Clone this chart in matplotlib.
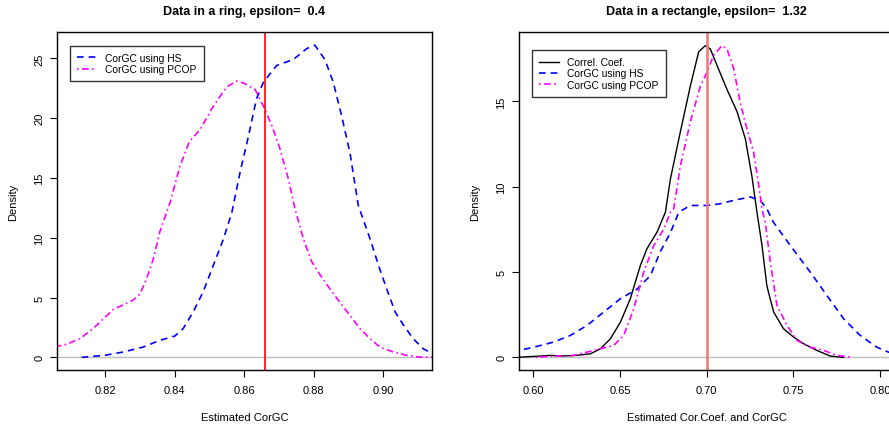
import matplotlib
matplotlib.use('Agg')
import matplotlib.pyplot as plt
import numpy as np

plt.rcParams['font.family'] = ['Liberation Sans', 'DejaVu Sans']

# left panel: data in a ring
ring_hs_x = [0.8132, 0.8199, 0.8252, 0.8309, 0.8357, 0.8400, 0.8424, 0.8453, 0.8482, 0.8511,
             0.8540, 0.8564, 0.8588, 0.8612, 0.8635, 0.8655, 0.8693, 0.8741, 0.8779, 0.8803,
             0.8832, 0.8856, 0.8880, 0.8904, 0.8928, 0.8962, 0.8986, 0.9010, 0.9034, 0.9058,
             0.9086, 0.9115, 0.9141, 0.9160]
ring_hs_y = [0.0, 0.17, 0.45, 0.86, 1.42, 1.78, 2.4, 3.8, 5.5, 7.7,
             9.9, 12.1, 15.5, 18.5, 21.6, 23.0, 24.4, 24.9, 25.8, 26.1,
             24.9, 23.0, 20.2, 17.1, 12.7, 9.9, 7.7, 5.7, 3.8, 2.7,
             1.56, 0.72, 0.3, 0.15]
ring_pcop_x = [0.8040, 0.8060, 0.8089, 0.8127, 0.8165, 0.8194, 0.8223, 0.8252, 0.8281, 0.8300,
               0.8319, 0.8338, 0.8357, 0.8376, 0.8386, 0.8415, 0.8443, 0.8472, 0.8511, 0.8549,
               0.8578, 0.8600, 0.8631, 0.8655, 0.8679, 0.8703, 0.8727, 0.8746, 0.8770, 0.8794,
               0.8818, 0.8847, 0.8875, 0.8904, 0.8933, 0.8962, 0.8990, 0.9029, 0.9067, 0.9106,
               0.9160]
ring_pcop_y = [0.85, 0.92, 1.09, 1.56, 2.4, 3.2, 4.0, 4.4, 4.8, 5.3,
               6.6, 8.2, 10.5, 12.1, 12.9, 16.0, 18.1, 19.0, 21.0, 22.6,
               23.1, 22.9, 22.4, 21.0, 19.4, 17.4, 14.9, 12.4, 9.9, 8.0,
               6.9, 5.7, 4.6, 3.5, 2.4, 1.56, 0.86, 0.45, 0.17, 0.02,
               0.0]
ring_true = 0.866

# right panel: data in a rectangle
rect_cc_x = [0.5900, 0.6042, 0.6100, 0.6157, 0.6253, 0.6330, 0.6388, 0.6445, 0.6503, 0.6560,
             0.6618, 0.6656, 0.6714, 0.6762, 0.6791, 0.6848, 0.6906, 0.6954, 0.6992, 0.7021,
             0.7060, 0.7117, 0.7175, 0.7223, 0.7261, 0.7290, 0.7319, 0.7347, 0.7386, 0.7443,
             0.7501, 0.7559, 0.7635, 0.7712, 0.7789]
rect_cc_y = [0.0, 0.08, 0.12, 0.08, 0.12, 0.21, 0.51, 1.09, 2.07, 3.44,
             5.39, 6.37, 7.34, 8.5, 10.45, 13.2, 15.9, 17.9, 18.26, 18.07,
             17.1, 15.7, 14.4, 12.8, 10.6, 8.5, 6.56, 4.2, 2.66, 1.68,
             1.19, 0.8, 0.41, 0.08, 0.0]
rect_hs_x = [0.5880, 0.5919, 0.6004, 0.6119, 0.6215, 0.6311, 0.6407, 0.6503, 0.6599, 0.6676,
             0.6733, 0.6791, 0.6839, 0.6906, 0.7002, 0.7079, 0.7156, 0.7251, 0.7309, 0.7347,
             0.7386, 0.7482, 0.7597, 0.7693, 0.7789, 0.7885, 0.7981, 0.8048, 0.8120]
rect_hs_y = [0.36, 0.41, 0.6, 0.9, 1.29, 1.88, 2.66, 3.44, 4.0, 4.8,
             6.2, 7.3, 8.5, 8.9, 8.9, 9.0, 9.2, 9.4, 9.2, 8.7,
             7.9, 6.56, 5.0, 3.63, 2.27, 1.29, 0.6, 0.31, 0.15]
rect_pcop_x = [0.6013, 0.6119, 0.6215, 0.6311, 0.6388, 0.6464, 0.6522, 0.6580, 0.6637, 0.6695,
               0.6752, 0.6791, 0.6810, 0.6848, 0.6906, 0.6964, 0.7002, 0.7040, 0.7088, 0.7117,
               0.7156, 0.7194, 0.7232, 0.7271, 0.7300, 0.7319, 0.7338, 0.7367, 0.7405, 0.7463,
               0.7520, 0.7597, 0.7674, 0.7750, 0.7837]
rect_pcop_y = [0.0, 0.08, 0.08, 0.31, 0.51, 0.7, 1.29, 2.85, 5.0, 6.56,
               7.5, 8.5, 8.7, 11.2, 13.8, 15.9, 16.7, 17.7, 18.26, 18.07,
               16.9, 14.9, 13.4, 12.0, 10.1, 8.7, 7.9, 5.6, 3.05, 1.88,
               1.0, 0.6, 0.41, 0.12, 0.0]
rect_true = 0.70

fig = plt.figure(figsize=(8.89, 4.27), dpi=100)
ax1 = fig.add_axes([0.0641, 0.1311, 0.4218, 0.7916])
ax2 = fig.add_axes([0.5838, 0.1311, 0.4218, 0.7916])

dash = (0, (4, 3))
dotdash = (0, (1, 2, 4, 2))

ax1.axhline(0, color='#bebebe', lw=1)
ax1.plot(ring_hs_x, ring_hs_y, color='blue', ls=dash, lw=1.2, label='CorGC using HS')
ax1.plot(ring_pcop_x, ring_pcop_y, color='magenta', ls=dotdash, lw=1.2, label='CorGC using PCOP')
ax1.axvline(ring_true, color='red', lw=1.2)
ax1.set_xlim(0.8061, 0.914)
ax1.set_ylim(-1.06, 27.2)
ax1.set_xticks([0.82, 0.84, 0.86, 0.88, 0.90])
ax1.set_xticklabels(['0.82', '0.84', '0.86', '0.88', '0.90'])
ax1.set_yticks([0, 5, 10, 15, 20, 25])
ax1.set_title('Data in a ring, epsilon=  0.4', fontsize=9, fontweight='bold', pad=13)
ax1.set_xlabel('Estimated CorGC', fontsize=8, labelpad=12)

ax2.axhline(0, color='#bebebe', lw=1)
ax2.plot(rect_cc_x, rect_cc_y, color='black', lw=1, label='Correl. Coef.')
ax2.plot(rect_hs_x, rect_hs_y, color='blue', ls=dash, lw=1.2, label='CorGC using HS')
ax2.plot(rect_pcop_x, rect_pcop_y, color='magenta', ls=dotdash, lw=1.2, label='CorGC using PCOP')
ax2.axvline(rect_true, color='#f07676', lw=1.8)
ax2.set_xlim(0.5918, 0.808)
ax2.set_ylim(-0.74, 19.06)
ax2.set_xticks([0.60, 0.65, 0.70, 0.75, 0.80])
ax2.set_xticklabels(['0.60', '0.65', '0.70', '0.75', '0.80'])
ax2.set_yticks([0, 5, 10, 15])
ax2.set_title('Data in a rectangle, epsilon=  1.32', fontsize=9, fontweight='bold', pad=13)
ax2.set_xlabel('Estimated Cor.Coef. and CorGC', fontsize=8, labelpad=12)

anchors = {ax1: (0.035, 0.959), ax2: (0.035, 0.947)}
for ax in (ax1, ax2):
    ax.set_ylabel('Density', fontsize=8, labelpad=12)
    ax.tick_params(axis='x', direction='out', length=5, width=0.8, labelsize=8, pad=6)
    ax.tick_params(axis='y', direction='out', length=5, width=0.8, labelsize=8, pad=4)
    for lbl in ax.get_yticklabels():
        lbl.set_rotation(90)
        lbl.set_va('center')
    for s in ax.spines.values():
        s.set_linewidth(1)
    leg = ax.legend(loc='upper left', fontsize=7.4, frameon=True, fancybox=False,
                    edgecolor='black', handlelength=1.9, handletextpad=0.8,
                    borderpad=0.7, labelspacing=0.12, borderaxespad=0,
                    bbox_to_anchor=anchors[ax])
    leg.get_frame().set_linewidth(1)

fig.savefig('out.png', dpi=100)
